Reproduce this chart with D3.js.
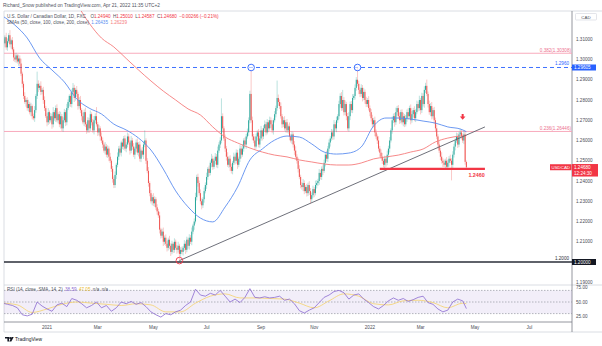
<!DOCTYPE html>
<html>
<head>
<meta charset="utf-8">
<script src="https://cdn.jsdelivr.net/npm/d3@7"></script>
<style>
  html, body { margin: 0; padding: 0; background: #fff; }
  svg { display: block; font-family: "Liberation Sans", Arial, sans-serif; }
</style>
</head>
<body>
<svg id="chart" width="602" height="346"></svg>
<script>
// ---------------- data ----------------
const symbolTitle = "U.S. Dollar / Canadian Dollar, 1D, FXC";
const publishedLine = "Richard_Snow published on TradingView.com, Apr 21, 2022 11:35 UTC+2";
const firstSession = "2020-11-12";           // daily sessions, Monday-Friday
const firstOpen = 1.3070;

// daily closes from 12 Nov 2020 to 20 Apr 2022 (open of each session = previous close)
const closes = [
  1.3100,1.3080,1.3110,1.3060,1.3090,1.3120,1.3075,1.3095,1.3050,
  1.3010,1.3000,1.3020,1.2990,1.3005,1.2980,
  1.2930,1.2880,1.2820,1.2790,
  1.2800,1.2760,1.2780,1.2740,1.2770,1.2720,1.2710,1.2750,
  1.2820,1.2880,1.2860,1.2870,1.2840,1.2850,1.2800,
  1.2760,1.2720,1.2690,1.2740,1.2700,
  1.2720,1.2680,1.2740,1.2710,1.2760,1.2700,1.2730,1.2680,1.2720,1.2660,1.2700,1.2740,1.2690,1.2760,
  1.2790,1.2820,1.2780,1.2840,1.2860,1.2810,1.2850,1.2830,1.2770,1.2800,1.2750,
  1.2720,1.2690,1.2740,1.2680,1.2650,1.2700,1.2660,1.2730,1.2690,1.2650,1.2700,
  1.2720,1.2680,1.2640,1.2660,1.2620,
  1.2600,1.2580,1.2550,1.2570,1.2530,1.2560,1.2520,1.2500,
  1.2460,1.2410,1.2380,1.2430,1.2480,
  1.2520,1.2560,1.2540,1.2590,1.2570,1.2610,1.2560,1.2580,1.2620,1.2590,1.2550,1.2600,1.2570,1.2530,1.2560,1.2590,1.2540,1.2580,1.2510,1.2550,1.2530,1.2580,1.2600,
  1.2500,1.2450,1.2390,1.2340,1.2300,1.2320,
  1.2290,1.2310,1.2270,1.2250,1.2230,
  1.2160,1.2130,1.2150,1.2100,1.2120,1.2090,1.2070,1.2110,1.2080,1.2050,1.2090,1.2060,1.2100,1.2070,1.2060,1.2080,1.2040,1.2060,1.2050,
  1.2070,1.2090,1.2060,1.2110,1.2080,1.2120,1.2100,1.2150,1.2180,1.2200,
  1.2320,1.2420,1.2390,
  1.2340,1.2300,1.2280,1.2310,1.2350,
  1.2380,1.2420,1.2460,1.2440,1.2490,1.2510,1.2470,1.2500,
  1.2520,1.2480,1.2550,1.2580,1.2600,1.2720,1.2660,1.2610,
  1.2560,1.2520,1.2480,1.2510,1.2470,1.2450,1.2490,1.2520,1.2500,
  1.2540,1.2480,1.2510,1.2560,1.2530,
  1.2560,1.2600,1.2580,1.2620,1.2640,
  1.2700,1.2830,1.2700,
  1.2620,1.2600,1.2570,1.2620,1.2640,1.2580,1.2610,1.2650,
  1.2620,1.2660,1.2680,1.2640,1.2690,1.2660,1.2700,1.2680,1.2650,1.2700,1.2730,1.2760,
  1.2810,1.2790,1.2770,
  1.2720,1.2680,1.2700,1.2660,1.2690,1.2650,1.2670,1.2620,
  1.2600,1.2630,1.2580,1.2550,1.2520,1.2500,
  1.2460,1.2420,1.2380,1.2370,
  1.2390,1.2350,1.2370,1.2340,1.2380,1.2350,1.2310,1.2330,1.2360,1.2340,1.2380,1.2390,
  1.2400,1.2440,1.2420,1.2460,1.2450,
  1.2490,1.2530,1.2510,1.2560,1.2590,1.2610,
  1.2640,1.2620,1.2680,1.2660,1.2700,1.2720,
  1.2780,1.2820,1.2760,1.2800,1.2740,1.2780,1.2720,
  1.2660,1.2720,1.2780,1.2750,1.2810,
  1.2820,1.2860,1.2900,1.2880,1.2850,
  1.2830,1.2860,1.2810,1.2840,1.2800,
  1.2780,1.2800,1.2760,
  1.2740,1.2710,1.2680,1.2700,1.2640,1.2620,1.2600,1.2560,1.2540,
  1.2520,1.2500,1.2480,1.2510,1.2490,1.2530,1.2560,
  1.2600,1.2650,1.2700,1.2720,1.2690,1.2740,
  1.2760,1.2720,1.2700,1.2740,1.2690,1.2720,1.2680,1.2710,1.2740,1.2720,1.2760,1.2700,1.2730,1.2750,1.2710,1.2740,1.2780,
  1.2760,1.2800,1.2750,1.2820,1.2780,1.2850,1.2870,1.2830,
  1.2780,1.2740,1.2770,1.2720,1.2750,1.2700,
  1.2660,1.2620,1.2580,1.2550,1.2520,1.2500,1.2490,1.2480,1.2500,1.2470,
  1.2490,1.2510,1.2500,1.2480,
  1.2530,1.2570,1.2600,1.2620,1.2580,1.2630,1.2640,
  1.2620,1.2600,1.2630,1.24946
];

// wick lengths beyond the body, in pips
const upperWickPips = [
  12,18,9,22,14,10,25,8,16,11,20,13,7,19,15,24,10,12,18,9,14,21,11,16,8,
  13,20,10,60,17,12,22,9,15,18,11,14,20,8,16,12,25,10,13,19,9,15,22,11,14,
  16,10,21,13,8,18,12,24,15,10,19,11,14,20,9,17,13,22,10,15,12,18,9,16,21,
  14,45,12,18,10,20,15,9,22,13,16,11,19,8,14,12,17,10,21,13,15,9,18,12,16,
  11,19,14,10,22,13,17,9,15,20,12,16,10,18,14,50,11,13,19,9,16,12,20,14,10,
  15,12,18,9,14,20,11,16,13,10,19,12,15,8,17,11,14,20,10,13,16,9,18,12,15,
  10,17,13,20,9,15,22,11,16,12,19,14,10,18,13,21,9,16,12,24,15,11,18,13,20,
  12,16,88,14,10,19,13,22,11,17,15,9,20,12,16,14,10,18,13,21,11,15,12,19,14,
  16,120,18,12,20,14,10,17,13,22,11,15,19,12,16,10,18,14,21,9,15,12,86,17,13,
  18,11,15,20,12,16,9,19,13,14,10,17,21,12,15,18,11,14,20,13,9,16,12,19,15,
  13,17,10,22,14,11,19,15,12,18,16,9,20,13,15,11,17,14,21,12,18,10,16,13,19,
  50,14,18,11,16,20,12,15,19,10,17,13,64,15,11,18,14,20,12,16,10,19,13,15,17,
  12,18,14,10,21,13,16,19,11,15,12,20,14,17,10,18,13,16,22,11,15,19,12,14,17,
  10,16,13,20,12,18,15,11,19,14,17,12,21,10,16,13,18,15,31,12,17,14,20,11,16,
  13,19,11,17,14,22,12,16,10,18,15,13,20,12,17,14,11,19,16,13,18,12,15,20,14
];
const lowerWickPips = [
  14,10,20,12,17,9,15,22,11,18,13,16,10,21,14,12,19,15,9,23,13,17,11,20,16,
  10,18,13,15,21,11,16,12,19,14,9,20,13,17,11,22,15,12,18,10,16,14,21,13,17,
  12,19,15,10,22,14,17,11,20,13,16,18,12,15,21,10,19,14,17,11,23,13,16,12,20,
  15,11,18,14,21,12,17,10,19,13,16,22,11,15,18,15,14,20,12,17,10,19,13,16,11,
  18,14,10,20,13,16,12,22,15,11,19,14,17,10,21,13,16,12,18,15,11,20,14,17,13,
  16,12,19,14,10,21,15,11,18,13,17,20,12,16,14,10,19,13,33,15,11,18,14,20,12,
  14,19,11,17,13,21,10,16,18,12,15,20,13,17,11,19,14,16,12,22,15,10,18,13,17,
  11,17,14,20,12,16,19,10,15,21,13,17,11,18,14,20,12,16,19,10,15,13,21,11,17,
  15,12,19,13,17,10,21,14,16,11,20,13,17,15,10,19,12,18,14,21,11,16,13,19,15,
  12,18,14,11,20,13,16,19,10,17,15,21,12,14,18,11,16,13,20,15,10,17,14,19,22,
  16,13,20,11,17,14,19,12,15,21,10,18,13,16,14,20,11,17,15,12,19,13,16,18,14,
  12,17,14,20,11,16,19,13,15,10,18,14,12,21,16,13,17,11,19,15,14,12,20,16,13,
  15,19,12,17,14,21,11,16,13,18,20,12,15,19,10,17,14,22,13,16,12,18,15,11,20,
  14,11,18,16,13,20,12,17,15,19,10,16,13,21,14,12,18,15,11,17,13,20,16,12,19,
  16,13,19,12,17,14,21,11,18,15,13,20,12,77,16,14,19,11,17,13,20,15,12,18,14
];

// session of 21 Apr 2022
const lastBar = { open: 1.24940, high: 1.25010, low: 1.24587, close: 1.24680, prevClose: 1.24946 };

// moving averages, one value every 10 sessions, last value = current reading
const smaSampleEvery = 10;
const sma50 = [
  1.3215,1.3170,1.3106,1.3007,1.2948,1.2889,1.2805,1.2760,1.2731,1.2681,
  1.2652,1.2612,1.2553,1.2459,1.2351,1.2272,1.2217,1.2198,1.2272,1.2370,
  1.2504,1.2558,1.2602,1.2622,1.2617,1.2583,1.2543,1.2533,1.2538,1.2568,
  1.2672,1.2711,1.2711,1.2706,1.2696,1.2686,1.2667,1.2657
];
const sma200 = [
  1.3750,1.3680,1.3610,1.3540,1.3467,1.3363,1.3274,1.3180,1.3106,1.3062,
  1.3005,1.2948,1.2894,1.2844,1.2800,1.2756,1.2726,1.2667,1.2617,1.2588,
  1.2563,1.2543,1.2528,1.2519,1.2504,1.2494,1.2484,1.2479,1.2479,1.2489,
  1.2509,1.2519,1.2528,1.2543,1.2558,1.2593,1.2612,1.2622
];
const smaLast = [1.26435, 1.26239];

// RSI(14) every 4 sessions and its SMA(14) every 12 sessions, last values = current reading
const rsiSampleEvery = 4;
const rsi = [
  48,46,44,40,28,26,29,50,43,38,
  34,45,48,42,56,53,47,40,44,50,
  40,44,34,40,50,47,51,46,49,42,
  33,28,24,30,28,33,36,44,50,72,
  62,60,65,62,70,60,50,55,49,58,
  73,58,57,59,57,58,60,53,55,47,
  35,31,36,40,49,58,62,68,70,66,
  55,62,64,55,49,42,38,44,52,57,
  53,56,51,54,58,60,49,46,38,33,
  36,50,55,52
];
const rsiMaSampleEvery = 12;
const rsiMa = [48,45,32,38,46,50,48,46,44,47,45,33,33,48,60,64,57,57,56,55,48,40,52,64,60,47,45,52,53,49,40,48];
const rsiLast = [38.59, 47.05];
const rsiLevels = [70, 50, 30];

// drawings
const fibLevels = [ { ratio: "0.382", price: 1.30308 }, { ratio: "0.236", price: 1.26446 } ];
const resistance = { price: 1.29605, label: "1.2960" };
const floorLevel = { price: 1.20000, label: "1.2000" };
const support = { from: "2022-01-13", to: "2022-05-12", price: 1.2460, label: "1.2460" };
const trendline = [ ["2021-06-01", 1.2007], ["2022-05-12", 1.2667] ];
const lowMarker = ["2021-06-01", 1.2007];
const highMarkers = [ ["2021-08-20", 1.29605], ["2021-12-20", 1.29605] ];
const arrowMarker = ["2022-04-18", 1.2716];

// axis ticks
const priceTicks = [1.19,1.20,1.21,1.22,1.23,1.24,1.25,1.26,1.27,1.28,1.29,1.30,1.31];
const rsiTicks = [75, 50, 25];
const timeTicks = [
  ["2021-01-01","2021"],["2021-03-01","Mar"],["2021-05-03","May"],["2021-07-01","Jul"],
  ["2021-09-01","Sep"],["2021-11-01","Nov"],["2022-01-03","2022"],["2022-03-01","Mar"],
  ["2022-05-02","May"],["2022-07-01","Jul"]
];

// ---------------- layout ----------------
const up = "#26a69a", down = "#ef5350", red = "#f23645", blue = "#2962ff";
const frame = { left: 4, right: 572, top: 11, priceBottom: 285, rsiBottom: 322, axisBottom: 332 };
const svg = d3.select("#chart");

// session calendar (weekdays) and index lookup
const cal = [];
{
  let d = new Date(firstSession + "T12:00:00Z");
  while (cal.length < 470) {
    const wd = d.getUTCDay();
    if (wd !== 0 && wd !== 6) cal.push(d.toISOString().slice(0, 10));
    d = new Date(d.getTime() + 864e5);
  }
}
const sessionIndex = s => cal.findIndex(c => c >= s);

const nBars = closes.length + 1;
const x = d3.scaleLinear().domain([0, nBars - 1]).range([2.5, 2.5 + (nBars - 1) * 1.237]);
const y = d3.scaleLinear().domain([1.20, 1.30]).range([262, 59.5]);
const yr = d3.scaleLinear().domain([25, 75]).range([316.5, 287.5]);
const fmt5 = d3.format(".5f");

// clip regions
const defs = svg.append("defs");
defs.append("clipPath").attr("id", "pricePane").append("rect")
  .attr("x", frame.left).attr("y", frame.top)
  .attr("width", frame.right - frame.left).attr("height", frame.priceBottom - frame.top);
defs.append("clipPath").attr("id", "rsiPane").append("rect")
  .attr("x", frame.left).attr("y", frame.priceBottom)
  .attr("width", frame.right - frame.left).attr("height", frame.rsiBottom - frame.priceBottom);

// frame lines
const frameG = svg.append("g").attr("stroke", "#d1d4dc").attr("stroke-width", 0.8);
frameG.append("line").attr("x1", frame.left).attr("x2", 602).attr("y1", frame.top).attr("y2", frame.top);
frameG.append("line").attr("x1", frame.left).attr("x2", frame.left).attr("y1", frame.top).attr("y2", frame.axisBottom);
frameG.append("line").attr("x1", frame.left).attr("x2", 602).attr("y1", frame.priceBottom).attr("y2", frame.priceBottom);
frameG.append("line").attr("x1", frame.left).attr("x2", 602).attr("y1", frame.axisBottom).attr("y2", frame.axisBottom);
svg.append("line").attr("x1", frame.left).attr("x2", frame.right).attr("y1", frame.rsiBottom).attr("y2", frame.rsiBottom)
  .attr("stroke", "#787b86").attr("stroke-width", 0.8);
svg.append("line").attr("x1", frame.right).attr("x2", frame.right).attr("y1", frame.top).attr("y2", frame.axisBottom)
  .attr("stroke", "#787b86").attr("stroke-width", 0.8);

// ---------------- price pane ----------------
const pane = svg.append("g").attr("clip-path", "url(#pricePane)");

// horizontal levels
fibLevels.forEach(f => {
  pane.append("line").attr("x1", frame.left).attr("x2", frame.right)
    .attr("y1", y(f.price)).attr("y2", y(f.price))
    .attr("stroke", "#f7a1b4").attr("stroke-width", 0.9);
});
pane.append("line").attr("x1", frame.left).attr("x2", frame.right)
  .attr("y1", y(resistance.price)).attr("y2", y(resistance.price))
  .attr("stroke", blue).attr("stroke-width", 0.9).attr("stroke-dasharray", "4,3");
pane.append("line").attr("x1", frame.left).attr("x2", frame.right)
  .attr("y1", y(floorLevel.price)).attr("y2", y(floorLevel.price))
  .attr("stroke", "#2a2e39").attr("stroke-width", 1.6);

// candles
const bars = closes.map((c, i) => {
  const o = i ? closes[i - 1] : firstOpen;
  return { i, o, c,
    h: Math.max(o, c) + upperWickPips[i] / 1e4,
    l: Math.min(o, c) - lowerWickPips[i] / 1e4 };
});
bars.push({ i: closes.length, o: lastBar.open, c: lastBar.close, h: lastBar.high, l: lastBar.low });

const candles = pane.append("g");
candles.selectAll("line.wick").data(bars).join("line")
  .attr("class", "wick")
  .attr("x1", d => x(d.i)).attr("x2", d => x(d.i))
  .attr("y1", d => y(d.h)).attr("y2", d => y(d.l))
  .attr("stroke", d => d.c >= d.o ? up : down)
  .attr("stroke-opacity", 0.45).attr("stroke-width", 0.7);
candles.selectAll("rect.body").data(bars).join("rect")
  .attr("class", "body")
  .attr("x", d => x(d.i) - 0.5).attr("width", 1)
  .attr("y", d => y(Math.max(d.o, d.c)))
  .attr("height", d => Math.max(0.6, Math.abs(y(d.o) - y(d.c))))
  .attr("fill", d => d.c >= d.o ? up : down);

// moving averages
const smaPoints = (arr, last) => arr.map((v, k) => [k * smaSampleEvery, v]).concat([[nBars - 1, last]]);
const lineGen = d3.line().x(d => x(d[0])).y(d => y(d[1])).curve(d3.curveMonotoneX);
pane.append("path").attr("d", lineGen(smaPoints(sma200, smaLast[1])))
  .attr("fill", "none").attr("stroke", "#f57c7c").attr("stroke-width", 0.9);
pane.append("path").attr("d", lineGen(smaPoints(sma50, smaLast[0])))
  .attr("fill", "none").attr("stroke", "#5b8def").attr("stroke-width", 0.9);

// trendline
pane.append("line")
  .attr("x1", x(sessionIndex(trendline[0][0]))).attr("y1", y(trendline[0][1]))
  .attr("x2", x(sessionIndex(trendline[1][0]))).attr("y2", y(trendline[1][1]))
  .attr("stroke", "#5d606b").attr("stroke-width", 0.9);

// support
pane.append("line")
  .attr("x1", x(sessionIndex(support.from))).attr("x2", x(sessionIndex(support.to)))
  .attr("y1", y(support.price)).attr("y2", y(support.price))
  .attr("stroke", red).attr("stroke-width", 2.4);
svg.append("text").attr("x", x(nBars - 1) + 2).attr("y", y(support.price) + 8)
  .attr("font-size", 5.4).attr("font-weight", "bold").attr("fill", red).text(support.label);

// markers
pane.append("circle").attr("cx", x(sessionIndex(lowMarker[0]))).attr("cy", y(lowMarker[1])).attr("r", 3.3)
  .attr("fill", "none").attr("stroke", red).attr("stroke-width", 0.9);
highMarkers.forEach(m => {
  pane.append("circle").attr("cx", x(sessionIndex(m[0]))).attr("cy", y(m[1])).attr("r", 3.3)
    .attr("fill", "#fff").attr("fill-opacity", 0.6).attr("stroke", blue).attr("stroke-width", 0.9);
});
{
  const ax = x(sessionIndex(arrowMarker[0])), ay = y(arrowMarker[1]);
  pane.append("path")
    .attr("d", `M${ax - 1},${ay - 3}h2v2.5h1.8l-2.8,3.2l-2.8,-3.2h1.8z`)
    .attr("fill", red);
}

// level labels
fibLevels.forEach(f => {
  svg.append("text").attr("x", frame.right - 1).attr("y", y(f.price) - 1.6)
    .attr("text-anchor", "end").attr("font-size", 4.6).attr("fill", "#ec6f8e")
    .text(`${f.ratio}(${fmt5(f.price)})`);
});
svg.append("text").attr("x", frame.right - 3).attr("y", y(resistance.price) - 2)
  .attr("text-anchor", "end").attr("font-size", 4.6).attr("fill", blue).text(resistance.label);
svg.append("text").attr("x", frame.right - 3).attr("y", y(floorLevel.price) - 2)
  .attr("text-anchor", "end").attr("font-size", 4.6).attr("fill", "#2a2e39").text(floorLevel.label);

// ---------------- RSI pane ----------------
const rp = svg.append("g").attr("clip-path", "url(#rsiPane)");
rp.append("rect").attr("x", frame.left).attr("width", frame.right - frame.left)
  .attr("y", yr(rsiLevels[0])).attr("height", yr(rsiLevels[2]) - yr(rsiLevels[0]))
  .attr("fill", "#7e57c2").attr("fill-opacity", 0.1);
rsiLevels.forEach(v => {
  rp.append("line").attr("x1", frame.left).attr("x2", frame.right).attr("y1", yr(v)).attr("y2", yr(v))
    .attr("stroke", "#9598a1").attr("stroke-width", 0.7).attr("stroke-dasharray", "1.5,1.5");
});
const rsiPts = rsi.map((v, k) => [k * rsiSampleEvery, v]).concat([[nBars - 1, rsiLast[0]]]);
const rsiMaPts = rsiMa.map((v, k) => [k * rsiMaSampleEvery, v]).concat([[nBars - 1, rsiLast[1]]]);
rp.append("path").attr("d", d3.line().x(d => x(d[0])).y(d => yr(d[1])).curve(d3.curveMonotoneX)(rsiMaPts))
  .attr("fill", "none").attr("stroke", "#f5d26b").attr("stroke-width", 0.8);
rp.append("path").attr("d", d3.line().x(d => x(d[0])).y(d => yr(d[1]))(rsiPts))
  .attr("fill", "none").attr("stroke", "#8a6ad0").attr("stroke-width", 0.8);

// ---------------- axes ----------------
const axisText = "#4a4d57";
// price tags drawn on the axis hide the tick labels beneath them
const taggedPrices = [resistance.price, floorLevel.price, lastBar.close];
const pAxis = svg.append("g").attr("font-size", 4.6).attr("fill", axisText);
priceTicks
  .filter(t => taggedPrices.every(p => Math.abs(y(t) - y(p)) > 4.5) &&
               !(y(t) > y(lastBar.close) - 4 && y(t) < y(lastBar.close) + 11))
  .forEach(t => {
    pAxis.append("text").attr("x", frame.right + 4).attr("y", y(t) + 1.6).text(fmt5(t));
  });
const rAxis = svg.append("g").attr("font-size", 4.6).attr("fill", axisText);
rsiTicks.forEach(t => {
  rAxis.append("text").attr("x", frame.right + 4).attr("y", yr(t) + 1.6).text(d3.format(".2f")(t));
});
const tAxis = svg.append("g").attr("font-size", 4.6).attr("fill", axisText).attr("text-anchor", "middle");
timeTicks.forEach(([d, lab]) => {
  tAxis.append("text").attr("x", x(sessionIndex(d))).attr("y", 329).text(lab);
});

// currency tag
svg.append("rect").attr("x", 575.5).attr("y", 13.5).attr("width", 21).attr("height", 6.5)
  .attr("fill", "#fff").attr("stroke", "#d1d4dc").attr("stroke-width", 0.6).attr("rx", 0.8);
svg.append("text").attr("x", 586).attr("y", 18.5).attr("text-anchor", "middle")
  .attr("font-size", 4.4).attr("fill", axisText).text("CAD");

// price tags on the axis
function axisTag(price, fill, label) {
  const cy = y(price);
  svg.append("rect").attr("x", frame.right).attr("y", cy - 3).attr("width", 24).attr("height", 6).attr("fill", fill);
  svg.append("text").attr("x", frame.right + 2).attr("y", cy + 1.6).attr("font-size", 4.6).attr("fill", "#fff").text(label);
}
axisTag(resistance.price, blue, fmt5(resistance.price));
axisTag(floorLevel.price, "#131722", fmt5(floorLevel.price));
{
  const cy = y(lastBar.close);
  svg.append("rect").attr("x", frame.right).attr("y", cy - 3.2).attr("width", 26).attr("height", 12.5).attr("fill", red);
  svg.append("text").attr("x", frame.right + 2).attr("y", cy + 1.6).attr("font-size", 4.6).attr("fill", "#fff").text(fmt5(lastBar.close));
  svg.append("text").attr("x", frame.right + 2).attr("y", cy + 7.3).attr("font-size", 4.6).attr("fill", "#fff").text("12:24:30");
  svg.append("rect").attr("x", frame.right - 22).attr("y", cy - 3).attr("width", 21.5).attr("height", 6).attr("fill", red);
  svg.append("text").attr("x", frame.right - 11.25).attr("y", cy + 1.6).attr("text-anchor", "middle")
    .attr("font-size", 4.4).attr("fill", "#fff").text("USDCAD");
}

// ---------------- legends ----------------
svg.append("text").attr("x", 3).attr("y", 6.5).attr("font-size", 4.8).attr("fill", "#50535e").text(publishedLine);

const lg = svg.append("text").attr("x", 7).attr("y", 17.6).attr("font-size", 4.6);
lg.append("tspan").attr("fill", "#50535e").text(symbolTitle);
[["O", lastBar.open], ["H", lastBar.high], ["L", lastBar.low], ["C", lastBar.close]].forEach(([k, v], j) => {
  lg.append("tspan").attr("dx", j ? 2.4 : 4.5).attr("fill", "#50535e").text(k);
  lg.append("tspan").attr("fill", red).text(fmt5(v));
});
{
  const chg = lastBar.close - lastBar.prevClose;
  lg.append("tspan").attr("dx", 2.4).attr("fill", red)
    .text(`${d3.format(".5f")(chg)} (${d3.format(".2%")(chg / lastBar.prevClose)})`);
}

const lg2 = svg.append("text").attr("x", 7).attr("y", 24.2).attr("font-size", 4.6);
lg2.append("tspan").attr("fill", "#50535e").text("SMAs (50, close, 100, close, 200, close)");
lg2.append("tspan").attr("dx", 2.4).attr("fill", "#5b8def").text(fmt5(smaLast[0]));
lg2.append("tspan").attr("dx", 2.4).attr("fill", "#f57c7c").text(fmt5(smaLast[1]));

const lg3 = svg.append("text").attr("x", 7).attr("y", 291.2).attr("font-size", 4.6);
lg3.append("tspan").attr("fill", "#50535e").text("RSI (14, close, SMA, 14, 2)");
lg3.append("tspan").attr("dx", 2.4).attr("fill", "#8a6ad0").text(rsiLast[0].toFixed(2));
lg3.append("tspan").attr("dx", 2.4).attr("fill", "#e8b92f").text(rsiLast[1].toFixed(2));
lg3.append("tspan").attr("dx", 2.4).attr("fill", "#50535e").text("n/a");
lg3.append("tspan").attr("dx", 2.4).attr("fill", "#50535e").text("n/a");

// footer logo
{
  const g = svg.append("g").attr("transform", "translate(5,337)").attr("fill", "#131722");
  g.append("path").attr("d", "M0,0h4v4.6h-1.6v-3h-2.4z");
  g.append("circle").attr("cx", 5.2).attr("cy", 1.1).attr("r", 1.1);
  g.append("path").attr("d", "M6.6,0h2.1l-2.4,4.6h-2.1z");
  svg.append("text").attr("x", 15).attr("y", 341.3).attr("font-size", 4.9).attr("fill", "#131722").text("TradingView");
}
</script>
</body>
</html>
